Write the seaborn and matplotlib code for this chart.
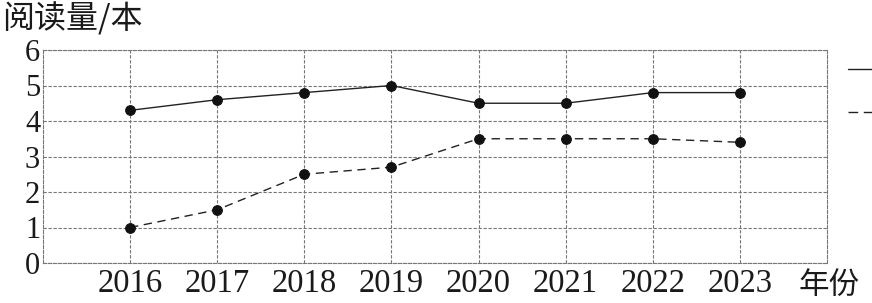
import matplotlib
matplotlib.use("Agg")
import matplotlib.pyplot as plt
import seaborn as sns
import pandas as pd
from matplotlib.lines import Line2D

years = [2016, 2017, 2018, 2019, 2020, 2021, 2022, 2023]
series_a = [4.3, 4.6, 4.8, 5.0, 4.5, 4.5, 4.8, 4.8]
series_b = [1.0, 1.5, 2.5, 2.7, 3.5, 3.5, 3.5, 3.4]
y_ticks = [0, 1, 2, 3, 4, 5, 6]

sns.set_theme(style="white")
plt.rcParams['font.family'] = ['Liberation Serif', 'Noto Sans CJK SC', 'DejaVu Sans']

df = pd.DataFrame({"year": years + years,
                   "value": series_a + series_b,
                   "series": ["a"] * len(years) + ["b"] * len(years)})

fig = plt.figure(figsize=(8.72, 3.03), dpi=100)
ax = fig.add_axes([43 / 872, 1 - 263 / 303, (827 - 43) / 872, (263 - 50) / 303])

grid_kw = dict(color="#777777", linestyle=(0, (3, 1.5)), linewidth=0.8)
for v in y_ticks:
    ax.axhline(v, zorder=0, **grid_kw)
for yr in years:
    ax.axvline(yr, zorder=0, **grid_kw)

sns.lineplot(data=df[df.series == "a"], x="year", y="value", ax=ax,
             color="#222222", linewidth=1.0, marker="o", markersize=7,
             markeredgecolor="#111111", markerfacecolor="#111111")
sns.lineplot(data=df[df.series == "b"], x="year", y="value", ax=ax,
             color="#222222", linewidth=1.0, marker="o", markersize=7,
             markeredgecolor="#111111", markerfacecolor="#111111",
             dashes=False, linestyle=(0, (6, 4)))

ax.set_xlim(2015, 2024)
ax.set_ylim(0, 6)
ax.set_xticks(years)
ax.set_xticklabels([str(y) for y in years], fontsize=23.5, color="#1a1a1a")
ax.set_yticks(y_ticks)
ax.set_yticklabels([str(v) for v in y_ticks], fontsize=22, color="#1a1a1a")
ax.tick_params(axis="x", length=0, pad=4)
ax.tick_params(axis="y", length=0, pad=2)
ax.set_xlabel("")
ax.set_ylabel("")
for s in ax.spines.values():
    s.set_color("#777777")
    s.set_linestyle((0, (3, 1.5)))
    s.set_linewidth(0.8)

fig.text(2 / 872, 1 - 19 / 303, "阅读量/本", fontsize=23, va="center", ha="left",
         family=['Noto Sans CJK SC', 'DejaVu Sans'], color="#1a1a1a")
fig.text(799 / 872, 1 - 285 / 303, "年份", fontsize=22, va="center", ha="left",
         family=['Noto Sans CJK SC', 'DejaVu Sans'], color="#1a1a1a")

handles = [Line2D([], [], color="#222222", linewidth=1.0),
           Line2D([], [], color="#222222", linewidth=1.0, linestyle=(0, (7, 4)))]
leg = fig.legend(handles, ["", ""], loc="upper left",
                 bbox_to_anchor=(838 / 872, 1 - 52 / 303), frameon=False,
                 handlelength=3.0, labelspacing=1.35, handletextpad=0, borderpad=0,
                 fontsize=14)

fig.savefig("out.png", dpi=100)
